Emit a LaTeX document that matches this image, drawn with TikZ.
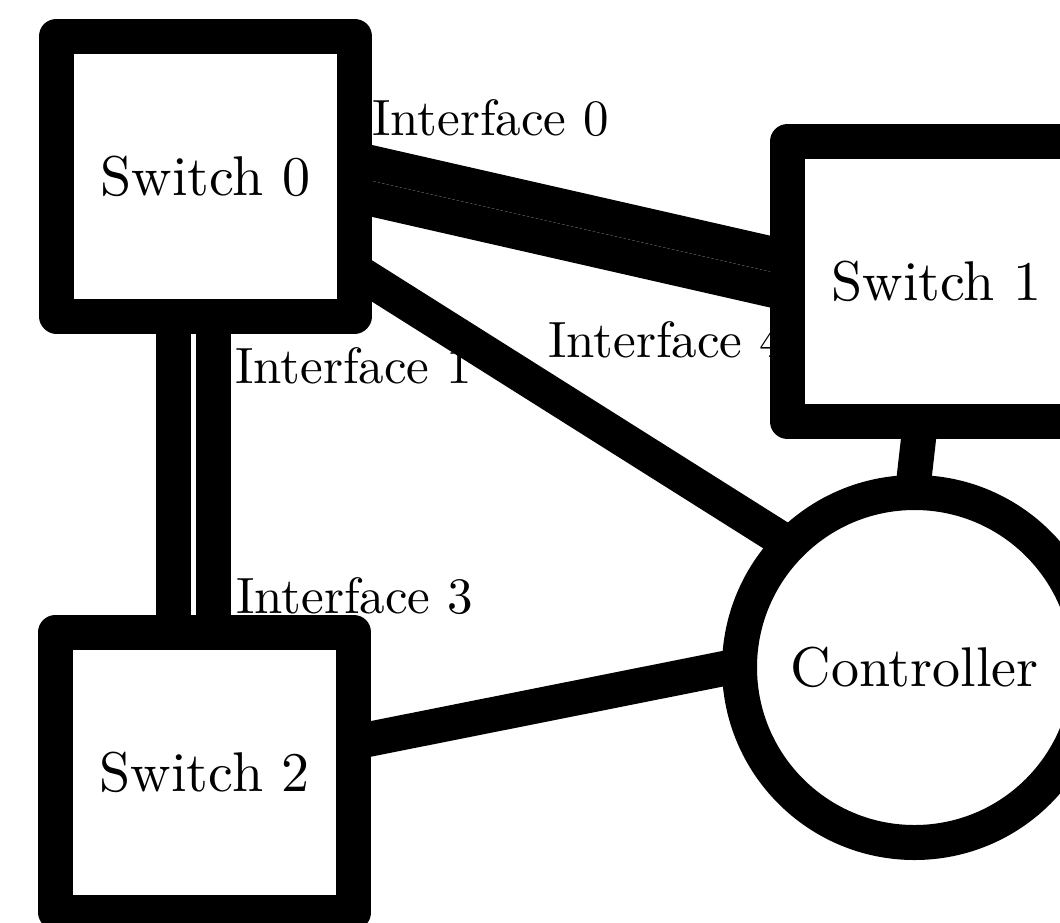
\documentclass[tikz,border=0pt]{standalone}
\usepackage{fontspec}
\setmainfont{lmroman10-regular.otf}
\usetikzlibrary{calc}
\pgfdeclarelayer{background}
\pgfsetlayers{background,main}
\tikzset{
  swbox/.style={draw=black, fill=white, line width=35pt, line join=round, rectangle,
    minimum width=298pt, minimum height=280pt, inner sep=0pt,
    font=\fontsize{56}{64}\selectfont},
  ctrlnode/.style={draw=black, fill=white, line width=35pt, circle, minimum size=350pt,
    inner sep=0pt, font=\fontsize{56}{64}\selectfont},
  link/.style={draw=black, line width=35pt},
  iflabel/.style={anchor=base west, inner sep=0pt, font=\fontsize{51}{60}\selectfont}
}
\begin{document}
\begin{tikzpicture}[x=1pt, y=-1pt]
\useasboundingbox (0,0) rectangle (1060,922);
\clip (0,0) rectangle (1060,922);
% labels (drawn before nodes so Switch 1 covers part of Interface 4)
\node[iflabel] (l0) at (372,135) {Interface 0};
\node[iflabel] (l1) at (235,383) {Interface 1};
\node[iflabel] (l3) at (236,613) {Interface 3};
\node[iflabel] (l4) at (548,357) {Interface 4};
% nodes
\node[swbox] (s0) at (205.5,176) {Switch 0};
\node[swbox] (s1) at (936.5,281.5) {Switch 1};
\node[swbox] (s2) at (204.75,772) {Switch 2};
\node[ctrlnode] (ctrl) at (914.5,667.5) {Controller};
% links
\begin{pgfonlayer}{background}
\draw[link] ($(s0.center)+(0,-51)$) -- ($(s1.center)+(0,10)$);
\draw[link] ($(s0.center)+(0,-15)$) -- ($(s1.center)+(0,46)$);
\draw[link] ($(s0.center)+(-32,0)$) -- ($(s2.center)+(-31.25,0)$);
\draw[link] ($(s0.center)+(8,0)$) -- ($(s2.center)+(8.75,0)$);
\draw[link] (s0.center) -- ($(ctrl.center)+(0,-44.5)$);
\draw[link] (s2.center) -- ($(ctrl.center)+(0,-37)$);
\draw[link] (s1.center) -- ($(ctrl.center)+(-17.5,-40)$);
\end{pgfonlayer}
\end{tikzpicture}
\end{document}
